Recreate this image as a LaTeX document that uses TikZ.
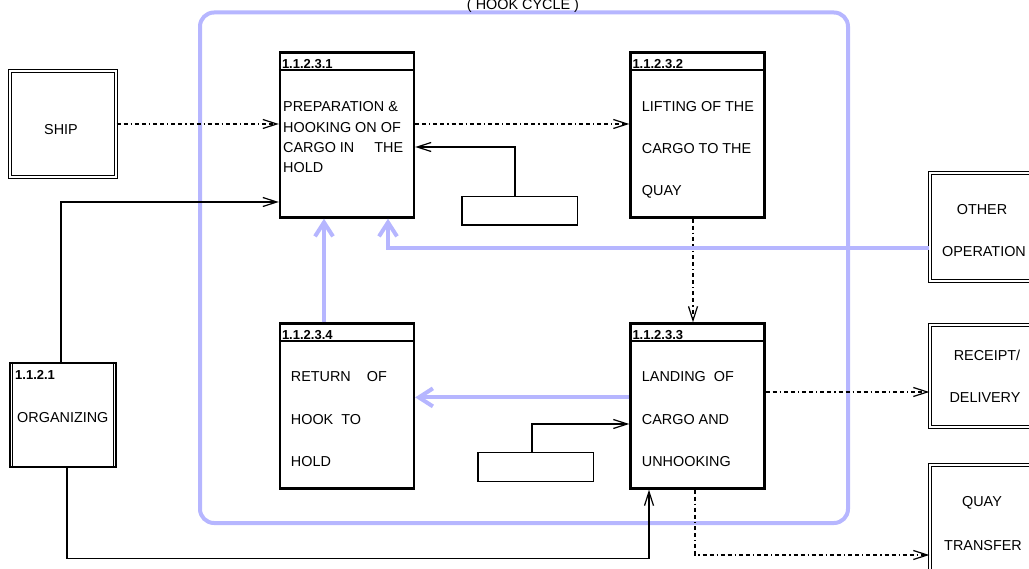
\documentclass[tikz,border=0pt]{standalone}
\usepackage{fontspec}
\setmainfont{Liberation Sans}
\usetikzlibrary{arrows.meta}
\definecolor{hooklav}{RGB}{182,182,255}
\tikzset{
  procbox/.style={draw, line width=2.4pt, minimum width=134pt, minimum height=165pt, inner sep=0pt},
  extbox/.style={draw, line width=1.4pt, double distance=1.6pt, inner sep=0pt},
  smallbox/.style={draw, line width=1.5pt, minimum width=115.5pt, minimum height=28.5pt, inner sep=0pt},
  idlabel/.style={font=\bfseries\fontsize{13}{15}\selectfont, inner sep=0pt, anchor=base west},
  proctext/.style={font=\fontsize{14.4}{16}\selectfont, inner sep=0pt, anchor=base west},
  flow/.style={line width=1.2pt, -{Straight Barb[length=14pt,width=9pt]}},
  dataflow/.style={flow, dash pattern=on 4pt off 3pt on 4pt off 3pt on 1.2pt off 3pt},
  hookflow/.style={draw=hooklav, line width=4pt, -{Straight Barb[length=14pt,width=18pt]}},
}
\newcommand\proclines[5]{\foreach \ln [count=\k] in {#5} \node[proctext] (#1-\k) at (#2,{#3+(\k-1)*#4}) {\ln};}
\begin{document}
\begin{tikzpicture}[x=1pt,y=-1pt]
\clip (0,0) rectangle (1029,569);
% hook cycle frame
\draw[draw=hooklav, line width=4pt, rounded corners=14pt] (200,12.5) rectangle (848,523);
\node[proctext, anchor=base] (cycle) at (523,10) {( HOOK CYCLE )};

% processes of the cycle
\node[procbox] (prep) at (347,135) {};
\node[procbox] (lift) at (697.5,135) {};
\node[procbox] (land) at (697.5,406) {};
\node[procbox] (ret) at (347,406) {};
\foreach \p/\id in {prep/1.1.2.3.1, lift/1.1.2.3.2, land/1.1.2.3.3, ret/1.1.2.3.4} {
  \draw[line width=2.4pt] ([yshift=-19pt]\p.north west) -- ([yshift=-19pt]\p.north east);
  \node[idlabel] (\p-id) at ([xshift=3pt,yshift=-17.5pt]\p.north west) {\id};
}
\proclines{prep}{283}{112}{20.3}{PREPARATION \&, HOOKING ON OF, CARGO IN\hspace{20pt}THE, HOLD}
\proclines{lift}{641.7}{111.7}{41.7}{LIFTING OF THE, CARGO TO THE, QUAY}
\proclines{land}{641.7}{381.7}{42.5}{LANDING\hspace{8pt}OF, CARGO AND, UNHOOKING}
\proclines{ret}{290.7}{381.7}{42.5}{RETURN\hspace{16pt}OF, HOOK\hspace{8pt}TO, HOLD}

% control boxes
\node[smallbox] (fb1) at (519.5,211) {};
\node[smallbox] (fb2) at (535.5,467) {};

% outside the cycle
\node[extbox, minimum width=106pt, minimum height=106pt] (ship) at (63,124) {};
\node[proctext, anchor=base] (ship-txt) at (61,135) {SHIP};
\node[extbox, minimum width=110pt, minimum height=108pt] (other) at (985,227) {};
\node[proctext, anchor=base] (other-1) at (982,215) {OTHER};
\node[proctext, anchor=base] (other-2) at (984,256.7) {OPERATION};
\node[extbox, minimum width=110pt, minimum height=102pt] (recpt) at (985,376) {};
\node[proctext, anchor=base] (recpt-1) at (987,360.7) {RECEIPT/};
\node[proctext, anchor=base] (recpt-2) at (985,402.7) {DELIVERY};
\node[extbox, minimum width=110pt, minimum height=110pt] (quay) at (985,520) {};
\node[proctext, anchor=base] (quay-1) at (982,506.7) {QUAY};
\node[proctext, anchor=base] (quay-2) at (983,550) {TRANSFER};
\node[draw, line width=2pt, minimum width=106pt, minimum height=104pt, inner sep=0pt] (org) at (63,415) {};
\draw[line width=1pt] ([xshift=3.5pt]org.north west) -- ([xshift=3.5pt]org.south west);
\draw[line width=1pt] ([xshift=-3.5pt]org.north east) -- ([xshift=-3.5pt]org.south east);
\node[idlabel] (org-id) at (15,380) {1.1.2.1};
\node[proctext] (org-txt) at (17,423) {ORGANIZING};

% cargo flow
\coordinate (land-out) at ([yshift=14pt]land.east);
\draw[dataflow] (ship.east) -- (prep.west |- ship.east);
\draw[dataflow] ([yshift=11pt]prep.east) -- ([yshift=11pt]lift.west);
\draw[dataflow] ([xshift=-4.5pt]lift.south) -- ([xshift=-4.5pt]land.north);
\draw[dataflow] (land-out) -- (recpt.west |- land-out);
\draw[dataflow] ([xshift=-2.5pt]land.south) |- ([yshift=-35pt]quay.west);

% control
\draw[flow] ([xshift=-4.5pt]fb1.north) |- ([yshift=-12pt]prep.east);
\draw[flow] ([xshift=-3.5pt]fb2.north) |- ([yshift=-18pt]land.west);
\draw[flow] ([xshift=-2pt]org.north) |- ([yshift=-67pt]prep.west);
\draw[flow] ([xshift=4pt]org.south) -- ++(0,90.5) -| ([xshift=-48.5pt]land.south);

% hook flow
\draw[hookflow] ([yshift=-21pt]other.west) -| ([xshift=41pt]prep.south);
\draw[hookflow] ([xshift=-23pt]ret.north) -- ([xshift=-23pt]prep.south);
\draw[hookflow] ([yshift=8.6pt]land.west) -- ([yshift=8.6pt]ret.east);
\end{tikzpicture}
\end{document}
